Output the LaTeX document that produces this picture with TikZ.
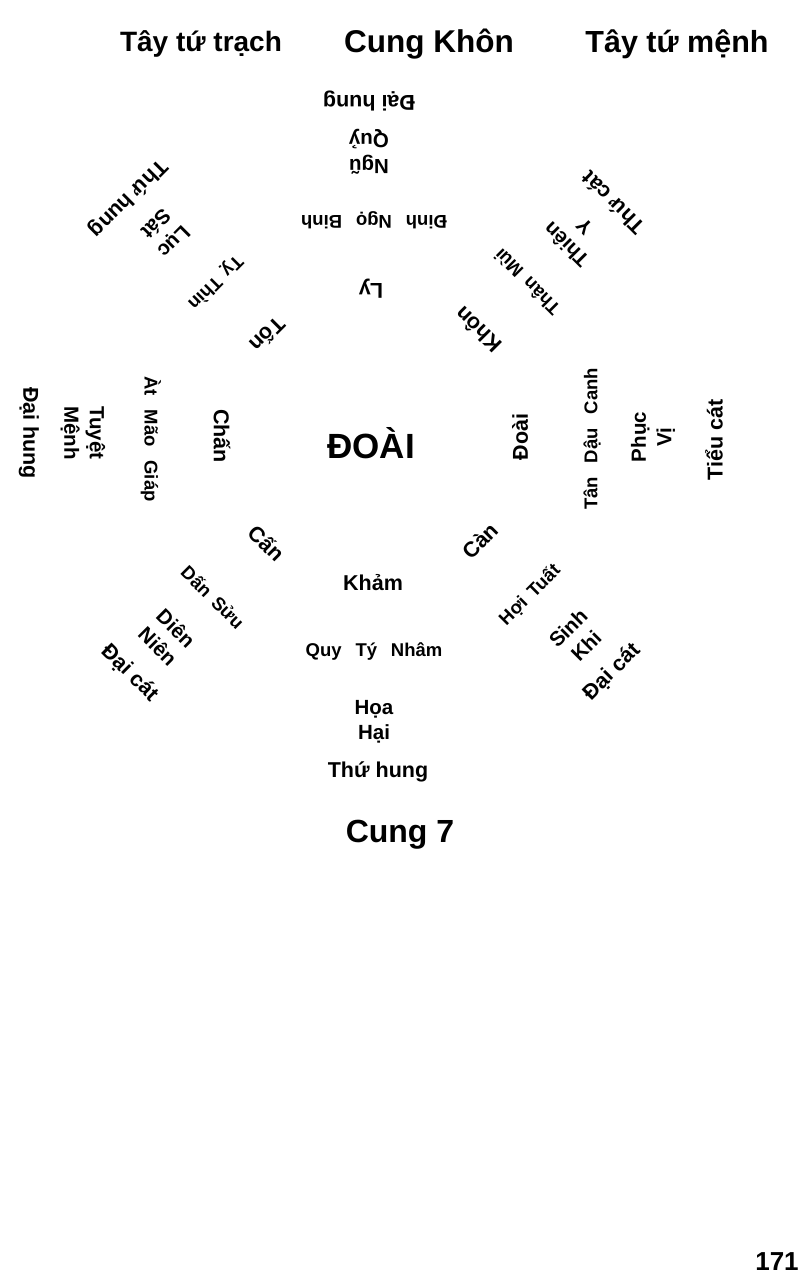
\documentclass[tikz,border=0pt]{standalone}
\usepackage{fontspec}
\setmainfont{Liberation Sans}
\newcommand\gap{\hspace{0.75em}}
\newcommand\dgap{\hspace{0.45em}}
\begin{document}
\begin{tikzpicture}[x=1pt,y=-1pt,
  every node/.style={inner sep=0pt, align=center},
  title/.style={font=\fontsize{29}{32}\selectfont\bfseries},
  core/.style={font=\fontsize{35}{37}\selectfont\bfseries},
  gua/.style={font=\fontsize{21.5}{23}\selectfont\bfseries},
  stem/.style={font=\fontsize{18.5}{20}\selectfont\bfseries},
  star/.style={font=\fontsize{20.5}{25.5}\selectfont\bfseries},
  verdict/.style={font=\fontsize{21.5}{23}\selectfont\bfseries},
  pagenum/.style={font=\fontsize{26}{28}\selectfont\bfseries}]
\useasboundingbox[fill=white] (0,0) rectangle (807,1278);
% titles
\node[title, font=\fontsize{28}{32}\selectfont\bfseries] (t1) at (201,44) {Tây tứ trạch};
\node[title, font=\fontsize{31.5}{32}\selectfont\bfseries] (t2) at (429,44) {Cung Khôn};
\node[title, font=\fontsize{30.5}{32}\selectfont\bfseries] (t3) at (677,44) {Tây tứ mệnh};
% centre
\node[core] (c) at (371,443) {ĐOÀI};
% top (south)
\node[gua, rotate=180] (ly) at (371,289) {Ly};
\node[stem, rotate=180] (sly) at (374,220) {Đinh\gap Ngọ\gap Binh};
\node[star, rotate=180] (nq) at (369,152) {Ngũ\\Quỷ};
\node[verdict, rotate=180] (vnq) at (369,101) {Đại hung};
% upper-left
\node[gua, rotate=225] (ton) at (268,335) {Tốn};
\node[stem, rotate=225] (ston) at (215,282) {Tỵ\dgap Thìn};
\node[star, rotate=225] (ls) at (165,233) {Lục\\Sát};
\node[verdict, rotate=225] (vls) at (128,198) {Thứ hung};
% left
\node[gua, rotate=270] (chan) at (222,436) {Chấn};
\node[stem, rotate=270] (schan) at (151,439) {Àt\gap Mão\gap Giáp};
\node[star, rotate=270] (tm) at (83,433) {Tuyệt\\Mệnh};
\node[verdict, rotate=270] (vtm) at (29,433) {Đại hung};
% lower-left
\node[gua, rotate=315] (can) at (267,543) {Cấn};
\node[stem, rotate=315] (scan) at (213,597) {Dấn\dgap Sửu};
\node[star, rotate=315] (dn) at (167,637) {Diên\\Niên};
\node[verdict, rotate=315] (vdn) at (130,673) {Đại cát};
% bottom (north)
\node[gua] (kham) at (373,583) {Khảm};
\node[stem] (skham) at (374,652) {Quy\gap Tý\gap Nhâm};
\node[star] (hh) at (374,722) {Họa\\Hại};
\node[verdict] (vhh) at (378,772) {Thứ hung};
% lower-right
\node[gua, rotate=45] (kien) at (480,541) {Càn};
\node[stem, rotate=45] (skien) at (530,595) {Hợi\dgap Tuất};
\node[star, rotate=45] (sk) at (577,637) {Sinh\\Khi};
\node[verdict, rotate=45] (vsk) at (612,672) {Đại cát};
% right
\node[gua, rotate=90] (doai) at (520,437) {Đoài};
\node[stem, rotate=90] (sdoai) at (592,439) {Tân\gap Dậu\gap Canh};
\node[star, rotate=90] (pv) at (653,437) {Phục\\Vị};
\node[verdict, rotate=90] (vpv) at (714,440) {Tiểu cát};
% upper-right
\node[gua, rotate=135] (khon) at (478,330) {Khôn};
\node[stem, rotate=135] (skhon) at (527,282) {Thân\dgap Mùi};
\node[star, rotate=135] (ty) at (575,236) {Thiên\\Y};
\node[verdict, rotate=135] (vty) at (613,203) {Thứ cát};
% caption and page number
\node[title, font=\fontsize{32}{34}\selectfont\bfseries] (cap) at (400,835) {Cung 7};
\node[pagenum] (pg) at (777,1262) {171};
\end{tikzpicture}
\end{document}
